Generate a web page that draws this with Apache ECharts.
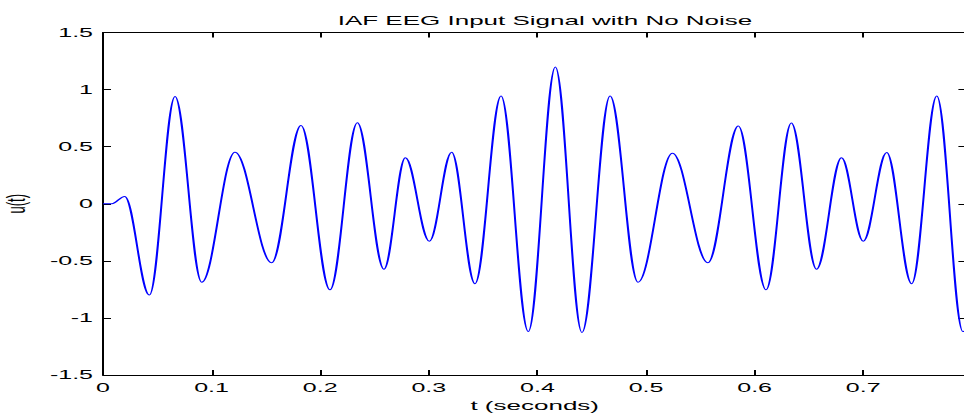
<!DOCTYPE html>
<html>
<head>
<meta charset="utf-8">
<script src="https://cdn.jsdelivr.net/npm/echarts@6/dist/echarts.min.js"></script>
<style>
  html, body { margin: 0; padding: 0; background: #fff; overflow: hidden; }
  /* The figure is laid out at half width and stretched 2x horizontally */
  #chart { width: 482px; height: 417px; transform: scaleX(2); transform-origin: 0 0; }
</style>
</head>
<body>
<div id="chart"></div>
<script>
// Turning points of the EEG input signal (time in seconds, amplitude)
const tSec = [0, 0.008, 0.020, 0.0427, 0.0663, 0.0909, 0.1215, 0.1553, 0.1823, 0.2090,
  0.2342, 0.2587, 0.2784, 0.3005, 0.3210, 0.3425, 0.3665, 0.3916, 0.4165, 0.4410,
  0.4669, 0.4926, 0.5243, 0.5570, 0.5850, 0.6105, 0.6338, 0.6570, 0.6800, 0.7000,
  0.7216, 0.7446, 0.7677, 0.7918, 0.7950];
const uVal = [0, 0, 0.064, -0.80, 0.94, -0.687, 0.452, -0.517, 0.686, -0.754,
  0.71, -0.573, 0.403, -0.328, 0.452, -0.70, 0.943, -1.119, 1.197, -1.128,
  0.943, -0.687, 0.443, -0.517, 0.68, -0.754, 0.707, -0.573, 0.403, -0.328,
  0.45, -0.70, 0.943, -1.12, -1.10];
const xTicks = [0, 0.1, 0.2, 0.3, 0.4, 0.5, 0.6, 0.7];
const yTicks = [-1.5, -1, -0.5, 0, 0.5, 1, 1.5];

const titleText = 'IAF EEG Input Signal with No Noise';
const xName = 't (seconds)';
const yName = 'u(t)';

const font = '"Liberation Sans", Arial, Helvetica, sans-serif';
const series = tSec.map((t, i) => [t, uVal[i]]);

const chart = echarts.init(document.getElementById('chart'), null, { renderer: 'svg' });

const boxLine = { show: true, onZero: false, lineStyle: { color: '#000', width: 1 } };
const xMin = 0, xMax = 0.795, yMin = -1.5, yMax = 1.5;

chart.setOption({
  backgroundColor: '#fff',
  animation: false,
  title: {
    text: titleText,
    left: 267.5, top: 9, textAlign: 'center',
    textStyle: { fontFamily: font, fontSize: 13, fontWeight: 'normal', color: '#000' }
  },
  grid: {
    left: 51.5, top: 32.5, width: 431.7, height: 342.5,
    containLabel: false, outerBoundsMode: 'none'
  },
  xAxis: [{
    type: 'value', min: xMin, max: xMax, interval: 0.1,
    position: 'bottom',
    name: xName, nameLocation: 'middle', nameGap: 20,
    nameTextStyle: { fontFamily: font, fontSize: 13, color: '#000' },
    axisLine: boxLine,
    axisTick: { show: true, inside: true, length: 5, lineStyle: { color: '#000' } },
    axisLabel: {
      fontFamily: font, fontSize: 12.5, color: '#000', margin: 6,
      showMaxLabel: false,
      formatter: v => (xTicks.some(x => Math.abs(x - v) < 1e-9) ? String(+v.toFixed(1)) : '')
    },
    splitLine: { show: false }
  }, {
    type: 'value', min: xMin, max: xMax, interval: 0.1,
    position: 'top',
    axisLine: boxLine,
    axisTick: { show: true, inside: true, length: 5, lineStyle: { color: '#000' } },
    axisLabel: { show: false },
    splitLine: { show: false }
  }],
  yAxis: [{
    type: 'value', min: yMin, max: yMax, interval: 0.5,
    position: 'left',
    name: yName, nameLocation: 'middle', nameGap: 33, nameRotate: 90,
    nameTextStyle: { fontFamily: font, fontSize: 13, color: '#000' },
    axisLine: boxLine,
    axisTick: { show: true, inside: true, length: 4, lineStyle: { color: '#000' } },
    axisLabel: {
      fontFamily: font, fontSize: 12.5, color: '#000', margin: 5,
      formatter: v => String(v)
    },
    splitLine: { show: false }
  }, {
    type: 'value', min: yMin, max: yMax, interval: 0.5,
    position: 'right',
    axisLine: boxLine,
    axisTick: { show: true, inside: true, length: 4, lineStyle: { color: '#000' } },
    axisLabel: { show: false },
    splitLine: { show: false }
  }],
  series: [{
    type: 'line',
    xAxisIndex: 0, yAxisIndex: 0,
    data: series,
    showSymbol: false,
    smooth: 0.36,
    smoothMonotone: 'x',
    lineStyle: { color: '#0000ff', width: 1 },
    clip: true
  }]
});
</script>
</body>
</html>
